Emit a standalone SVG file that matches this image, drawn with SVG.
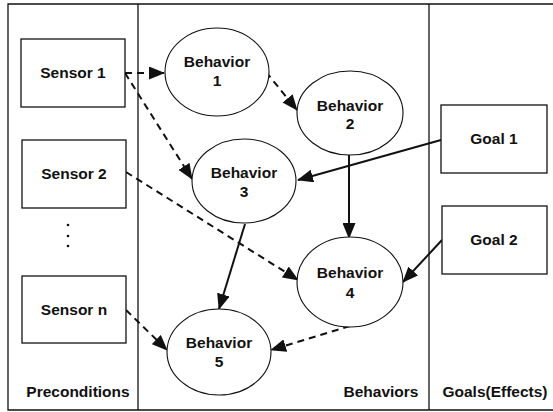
<svg xmlns="http://www.w3.org/2000/svg" width="553" height="412" viewBox="0 0 553 412">
<style>
text{font-family:"Liberation Sans",Arial,sans-serif;font-weight:bold;font-size:15.5px;fill:#111;text-anchor:middle}
.box{fill:#fff;stroke:#111;stroke-width:1.3}
.ell{fill:#fff;stroke:#111;stroke-width:1.1}
.frame{fill:none;stroke:#111;stroke-width:1.3}
.dash{fill:none;stroke:#111;stroke-width:2;stroke-dasharray:7,5}
.solid{fill:none;stroke:#111;stroke-width:2}
</style>
<defs>
<marker id="ah" markerWidth="16" markerHeight="13" refX="15" refY="6.5" orient="auto" markerUnits="userSpaceOnUse">
<path d="M0,0 L16,6.5 L0,13 Z" fill="#111"/>
</marker>
</defs>
<rect width="553" height="412" fill="#fff"/>
<g id="frame">
<path class="frame" d="M553,4 H8 V410 H553"/>
<line class="frame" x1="138" y1="4" x2="138" y2="410" stroke-width="1"/>
<line class="frame" x1="429" y1="4" x2="429" y2="410" stroke-width="1"/>
<text x="78" y="397">Preconditions</text>
<text x="381" y="397">Behaviors</text>
<text x="495" y="397">Goals(Effects)</text>
</g>
<g id="connectors">
<line class="dash" x1="125" y1="73" x2="164" y2="73" marker-end="url(#ah)"/>
<line class="dash" x1="125" y1="73" x2="192" y2="179" marker-end="url(#ah)"/>
<line class="dash" x1="266" y1="72" x2="297" y2="110" marker-end="url(#ah)"/>
<line class="dash" x1="126" y1="172" x2="298" y2="280" marker-end="url(#ah)"/>
<line class="solid" x1="441" y1="140" x2="298" y2="180" marker-end="url(#ah)"/>
<line class="solid" x1="349" y1="155" x2="349" y2="238" marker-end="url(#ah)"/>
<line class="solid" x1="245" y1="224" x2="219" y2="309" marker-end="url(#ah)"/>
<line class="solid" x1="442" y1="240" x2="403" y2="282" marker-end="url(#ah)"/>
<line class="dash" x1="126" y1="310" x2="167" y2="350" marker-end="url(#ah)"/>
<line class="dash" x1="350" y1="326" x2="271" y2="350" marker-end="url(#ah)"/>
</g>
<g id="sensor1"><rect class="box" x="21" y="39" width="104" height="68"/><text x="73" y="78">Sensor 1</text></g>
<g id="sensor2"><rect class="box" x="22" y="140" width="104" height="68"/><text x="74" y="179">Sensor 2</text></g>
<g id="dots">
<circle cx="68" cy="225" r="1.3" fill="#111"/>
<circle cx="68" cy="236" r="1.3" fill="#111"/>
<circle cx="68" cy="246" r="1.3" fill="#111"/>
</g>
<g id="sensorn"><rect class="box" x="22" y="276" width="104" height="67"/><text x="74" y="315">Sensor n</text></g>
<g id="behavior1"><ellipse class="ell" cx="217" cy="72" rx="52" ry="44"/><text x="217" y="67">Behavior</text><text x="217" y="86">1</text></g>
<g id="behavior2"><ellipse class="ell" cx="350" cy="113" rx="53" ry="42"/><text x="350" y="111">Behavior</text><text x="350" y="129">2</text></g>
<g id="behavior3"><ellipse class="ell" cx="244" cy="181" rx="52" ry="42"/><text x="244" y="178">Behavior</text><text x="244" y="197">3</text></g>
<g id="behavior4"><ellipse class="ell" cx="350" cy="282" rx="53" ry="45"/><text x="350" y="278">Behavior</text><text x="350" y="298">4</text></g>
<g id="behavior5"><ellipse class="ell" cx="219" cy="352" rx="52" ry="43"/><text x="219" y="348">Behavior</text><text x="219" y="367">5</text></g>
<g id="goal1"><rect class="box" x="441" y="105" width="106" height="68"/><text x="494" y="144">Goal 1</text></g>
<g id="goal2"><rect class="box" x="442" y="206" width="105" height="68"/><text x="494" y="245">Goal 2</text></g>
</svg>
